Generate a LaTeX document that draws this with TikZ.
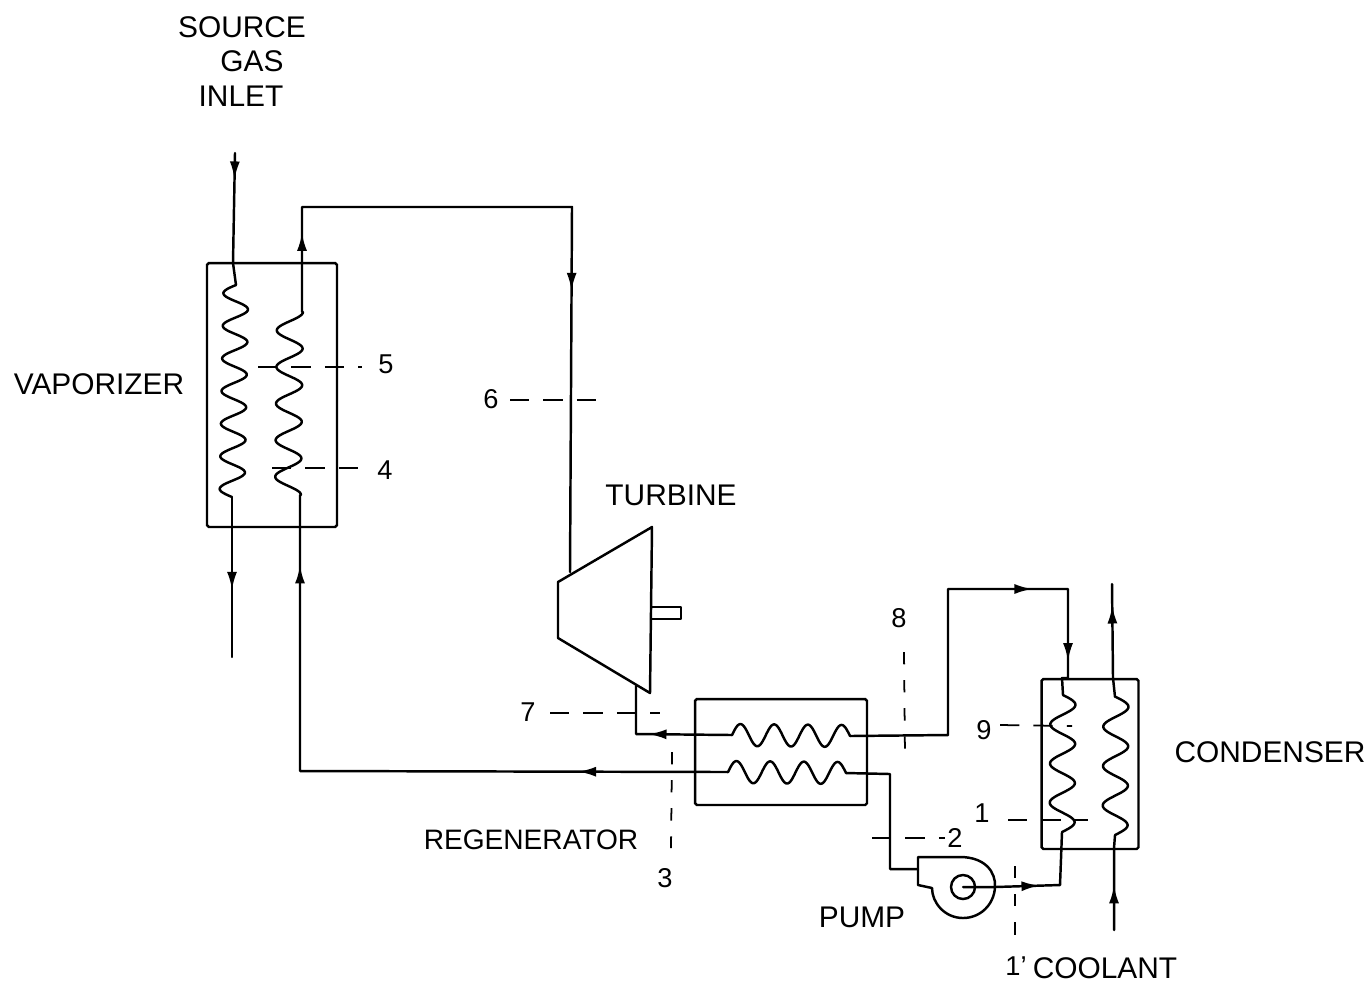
\documentclass[tikz,border=0pt]{standalone}
\usepackage{fontspec}
\setmainfont{Liberation Sans}
\usetikzlibrary{arrows.meta,decorations.markings}

\newcommand{\vcoil}[7]{\draw[pipe] plot[variable=\t,domain=0:1,samples=160,smooth]
  ({#1+(#3-#1)*\t-#5*sin(360*#7*\t+#6)},{#2+(#4-#2)*\t});}
\newcommand{\hcoil}[7]{\draw[pipe] plot[variable=\t,domain=0:1,samples=160,smooth]
  ({#1+(#3-#1)*\t},{#2+(#4-#2)*\t-#5*sin(360*#7*\t+#6)});}

\begin{document}
\begin{tikzpicture}[x=0.02cm,y=-0.02cm,
    pipe/.style={line width=1.4pt,line join=round,line cap=round},
    unit/.style={draw,line width=1.4pt,inner sep=0pt,outer sep=0pt,rounded corners=1pt},
    leader/.style={line width=1pt,dash pattern=on 11pt off 8pt},
    vleader/.style={line width=1pt,dash pattern=on 7pt off 9pt},
    unitname/.style={font=\fontsize{17}{20}\selectfont,inner sep=0pt},
    statenum/.style={font=\fontsize{15.5}{18}\selectfont,inner sep=0pt},
    flow/.style={postaction={decorate,decoration={markings,
      mark=at position #1 with {\arrow{Latex[length=0.36cm,width=0.2cm]}}}}}]
  \useasboundingbox (0,0) rectangle (1371,985);

  % units
  \node[unit,minimum width=2.6cm,minimum height=5.28cm] (vaporizer) at (272,395) {};
  \node[unit,minimum width=3.44cm,minimum height=2.12cm] (regenerator) at (781,752) {};
  \node[unit,minimum width=1.94cm,minimum height=3.4cm] (condenser) at (1090,764) {};
  \draw[pipe] (652,527) coordinate (turbtop) -- (558,582) -- (558,638)
    -- (650,693) coordinate (turbbot) -- cycle;
  \draw[pipe] (652,607) -- (681,607) -- (681,619) -- (652,619);
  \draw[pipe] (918,885) -- (918,857) -- (960,857)
    .. controls (985,857) and (996,872) .. (995,887)
    .. controls (994,905) and (980,918) .. (963,918)
    .. controls (945,918) and (932,903) .. (932,888) -- cycle;
  \node[draw,circle,line width=1.4pt,minimum size=0.48cm,inner sep=0pt] (impeller) at (963,887) {};

  % coils
  \vcoil{236}{285}{232}{497}{12.5}{0}{6.5}
  \vcoil{290}{312}{288}{495}{13}{-90}{5}
  \hcoil{732}{735}{850}{736}{11}{0}{3.5}
  \hcoil{728}{772}{846}{773}{11}{0}{3.5}
  \vcoil{1063}{695}{1062}{832}{12.5}{180}{3.5}
  \vcoil{1116}{697}{1115}{835}{12.5}{180}{3.5}

  % free ends and bends
  \coordinate (srcin) at (235,153);
  \coordinate (srcout) at (232,657);
  \coordinate (coolin) at (1114,930);
  \coordinate (coolout) at (1112,584);
  \coordinate (turbin) at (570,572);
  \coordinate (turbout) at (636,686);

  % source gas
  \draw[pipe,flow=0.2] (srcin) -- (233,263) -- (236,285);
  \draw[pipe,flow=0.58] (232,497) -- (srcout);
  % working fluid
  \draw[pipe,flow=0.107,flow=0.62] (302,312) -- (302,207) -- (572,207) -- (turbin);
  \draw[pipe,flow=0.58] (732,735) -- (636,734) -- (turbout);
  \draw[pipe,flow=0.213,flow=0.9] (728,772) -- (300,771) -- (300,495);
  \draw[pipe,flow=0.69,flow=0.916] (850,736) -- (948,735) -- (948,589)
    -- (1068,589) -- (1068,678) -- (1062,678) -- (1063,695);
  \draw[pipe] (846,773) -- (890,774) -- (890,869) -- (918,869);
  \draw[pipe,flow=0.51] (impeller.center) -- (995,887) -- (1060,885) -- (1062,832);
  % coolant
  \draw[pipe,flow=0.47] (coolin) -- (1114,848) -- (1115,835);
  \draw[pipe,flow=0.81] (1115,697) -- (1113,678) -- (coolout);

  % state points
  \node[statenum] (n5) at (386,364) {5};
  \node[statenum] (n4) at (385,470) {4};
  \node[statenum] (n6) at (491,399) {6};
  \node[statenum] (n7) at (528,712) {7};
  \node[statenum] (n8) at (899,618) {8};
  \node[statenum] (n3) at (665,878) {3};
  \node[statenum] (n2) at (955,838) {2};
  \node[statenum] (n9) at (984,730) {9};
  \node[statenum] (n1) at (982,813) {1};
  \node[statenum] (n1p) at (1016,966) {1'};
  \draw[leader] (258,367) -- (362,367);
  \draw[leader] (272,468) -- (366,468);
  \draw[leader] (510,400) -- (610,400);
  \draw[leader] (550,713) -- (660,713);
  \draw[leader] (872,838) -- (945,838);
  \draw[leader] (1000,725) -- (1072,726);
  \draw[leader] (1008,820) -- (1088,820);
  \draw[vleader] (904,652) -- (905,757);
  \draw[vleader] (672,752) -- (671,848);
  \draw[vleader] (1015,866) -- (1015,945);

  % names
  \node[unitname] (source) at (242,27) {SOURCE};
  \node[unitname] (gas) at (252,61) {GAS};
  \node[unitname] (inlet) at (241,96) {INLET};
  \node[unitname] (vapname) at (99,384) {VAPORIZER};
  \node[unitname] (turbname) at (671,495) {TURBINE};
  \node[unitname,font=\fontsize{16}{20}\selectfont] (regenname) at (531,840) {REGENERATOR};
  \node[unitname] (pumpname) at (862,917) {PUMP};
  \node[unitname] (condname) at (1270,752) {CONDENSER};
  \node[unitname] (coolname) at (1105,968) {COOLANT};
\end{tikzpicture}
\end{document}
